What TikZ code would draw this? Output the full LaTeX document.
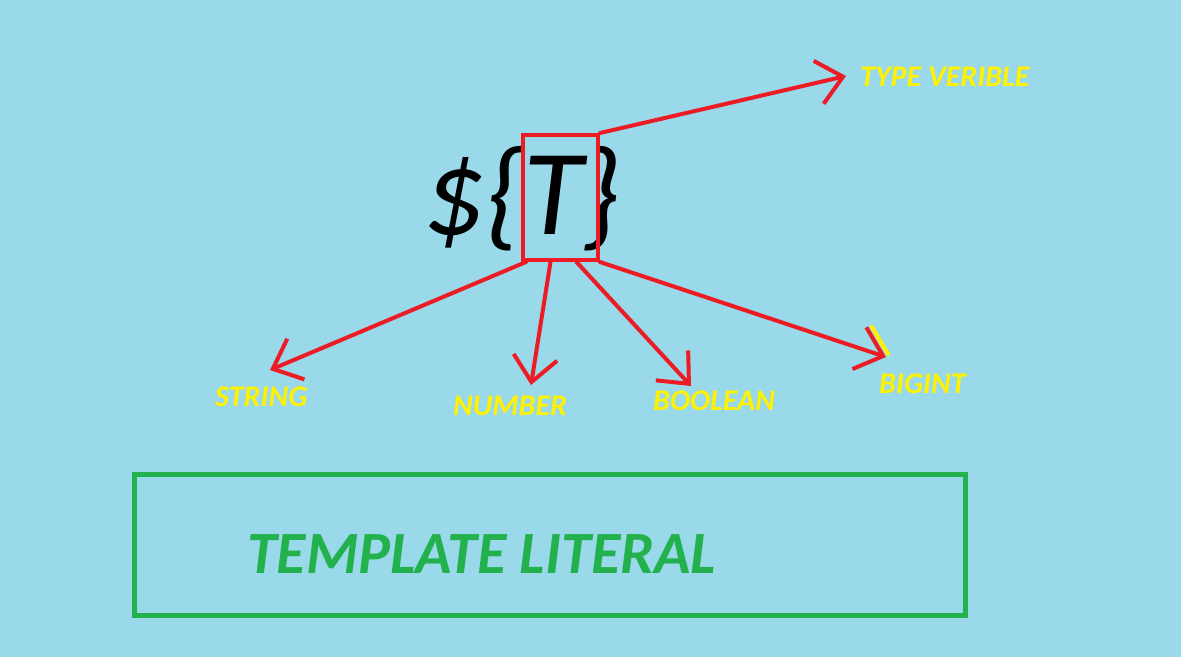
\documentclass[tikz,border=0pt]{standalone}
\usepackage{fontspec}
\setmainfont{Carlito}
\usetikzlibrary{positioning,arrows.meta}
\definecolor{sky}{HTML}{99D9EA}
\definecolor{paintred}{HTML}{ED1C24}
\definecolor{paintyellow}{HTML}{FFF200}
\definecolor{paintgreen}{HTML}{22B14C}

\begin{document}
\begin{tikzpicture}[x=1pt, y=-1pt,
  lbl/.style={anchor=base west, inner sep=0, text=paintyellow,
    font=\fontsize{30}{36}\selectfont\bfseries\itshape},
  ray/.style={paintred, line width=4, line cap=round,
    -{Straight Barb[length=25pt, width=44pt]}}]
  \fill[sky] (0,0) rectangle (1181,657);
  \useasboundingbox (0,0) rectangle (1181,657);

  % the placeholder and its box
  \node[anchor=base west, inner sep=0, font=\fontsize{122}{134}\selectfont\itshape] (expr) at (423,234) {\$\{T\}};
  \node[draw=paintred, line width=4, minimum width=75, minimum height=125, inner sep=0] (tbox) at (560.5,197.5) {};

  % arrow ends
  \coordinate (typetip) at (846,76);
  \coordinate (strtip) at (270,370);
  \coordinate (numtip) at (531,385);
  \coordinate (booltip) at (691,386);
  \coordinate (bigtip) at (886,357);

  \draw[ray] (tbox.north east) -- (typetip);
  \draw[ray] ([xshift=5]tbox.south west) -- (strtip);
  \draw[ray] ([xshift=-10]tbox.south) -- (numtip);
  \draw[ray] ([xshift=16]tbox.south) -- (booltip);
  \draw[ray] (tbox.south east) -- (bigtip);
  \draw[paintyellow, line width=4, line cap=round] (872,327) -- (888,354);

  \node[lbl] (typelbl) at (860,86) {TYPE VERIBLE};
  \node[lbl] (strlbl) at (215,406) {STRING};
  \node[lbl] (numlbl) at (453,415) {NUMBER};
  \node[lbl] (boollbl) at (653,410) {BOOLEAN};
  \node[lbl] (biglbl) at (879,393) {BIGINT};

  % bottom box
  \node[draw=paintgreen, line width=4.5, minimum width=831, minimum height=141, inner sep=0] (litbox) at (550,545) {};
  \node[anchor=base west, inner sep=0, text=paintgreen, font=\fontsize{60}{72}\selectfont\bfseries\itshape] (littext) at (247,573) {TEMPLATE LITERAL};
\end{tikzpicture}
\end{document}
